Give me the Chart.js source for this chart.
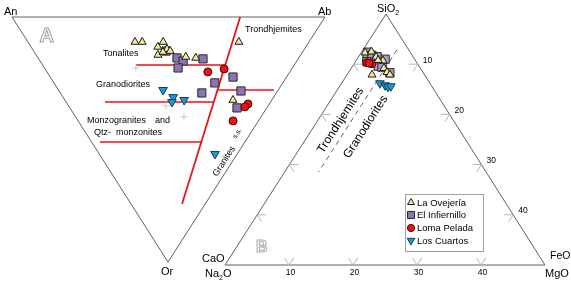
<!DOCTYPE html>
<html>
<head>
<meta charset="utf-8">
<script src="https://cdn.jsdelivr.net/npm/chart.js@4/dist/chart.umd.min.js"></script>
<style>
html,body{margin:0;padding:0;background:#fff;overflow:hidden}
canvas{display:block}
</style>
</head>
<body>
<canvas id="c" width="571" height="285"></canvas>
<script>
// ===================== DATA =====================
// Diagram A: An–Ab–Or ternary, values in % (An = 100 - Ab - Or)
const A_ovejeria_ab   = [34.2, 36.5, 43.2, 40.5, 43.0, 43.6, 38.9, 41.1, 47.4, 50.4, 67.4, 53.7];
const A_ovejeria_or   = [10.2, 10.2, 10.2, 12.2, 13.1, 13.9, 15.5, 14.3, 16.3, 16.7, 10.2, 33.9];
const A_infiernillo_ab = [44.4, 45.7, 42.7, 52.5, 58.4, 51.4, 58.1, 45.2, 53.4, 42.3];
const A_infiernillo_or = [16.7, 18.0, 20.8, 17.1, 24.5, 26.9, 30.2, 31.0, 37.1, 13.9];
const A_loma_ab       = [51.4, 57.2, 57.7, 56.1, 49.5];
const A_loma_or       = [22.4, 21.2, 35.5, 36.7, 42.4];
const A_cuartos_ab    = [33.4, 35.2, 33.8, 38.1, 37.0];
const A_cuartos_or    = [29.8, 32.7, 34.7, 33.9, 55.9];
// field boundaries
const A_divide_ab = [72.9, 16.3];
const A_divide_or = [0.0, 76.3];
const A_limit_or      = [19.6, 29.8, 34.7, 51.0];
const A_limit_ab_from = [29.8, 51.0, 12.4, 2.7];
const A_limit_ab_to   = [58.3, 68.8, 46.9, 35.0];
const A_grid_ab = [29.2, 31.1, 34.6];
const A_grid_or = [20.8, 36.3, 40.8];

// Diagram B: SiO2 – (Na2O/CaO) – (FeO/MgO) ternary, scale 0–50
// m = share toward FeO/MgO apex, n = share toward Na2O/CaO apex, SiO2 = 50 - m - n
const B_ovejeria_m   = [0.6, 2.75, 4.2, 5.1, 6.0, 6.7, 3.9, 3.4, 1.5];
const B_ovejeria_n   = [7.1, 5.8, 5.1, 5.7, 5.6, 5.4, 8.2, 5.8, 6.0];
const B_infiernillo_m = [1.0, 1.4, 1.9, 2.9, 1.8, 3.1, 4.4, 4.0, 4.7, 6.5];
const B_infiernillo_n = [6.6, 7.3, 6.3, 5.6, 7.7, 6.5, 4.6, 6.4, 5.9, 5.2];
const B_loma_m       = [2.8, 1.9, 2.3];
const B_loma_n       = [7.1, 7.8, 7.5];
const B_cuartos_m    = [6.0, 7.0, 7.6, 8.0];
const B_cuartos_n    = [7.8, 7.2, 6.9, 6.4];
const B_divide_m = [5.3, 5.3];
const B_divide_n = [1.8, 26.2];
const B_ticks = [10, 20, 30, 40];

const seriesNames = ['La Ovejería', 'El Infiernillo', 'Loma Pelada', 'Los Cuartos'];

// ===================== LAYOUT =====================
const VA = { an: [12, 17], ab: [325, 17], or: [168, 262] };
const VB = { s: [386, 14], n: [225, 265], m: [545, 265] };
function tA(ab, or) {
  const an = 100 - ab - or;
  return { x: (an * VA.an[0] + ab * VA.ab[0] + or * VA.or[0]) / 100,
           y: (an * VA.an[1] + ab * VA.ab[1] + or * VA.or[1]) / 100 };
}
function tB(m, n) {
  const s = 50 - m - n;
  return { x: (s * VB.s[0] + n * VB.n[0] + m * VB.m[0]) / 50,
           y: (s * VB.s[1] + n * VB.n[1] + m * VB.m[1]) / 50 };
}
const zipA = (a, b) => a.map((v, i) => tA(v, b[i]));
const zipB = (a, b) => a.map((v, i) => tB(v, b[i]));
const GAP = { x: null, y: null };

// ticks on triangle B (ternary-unit arms)
const L = 1.4;
const tickPts = [];
B_ticks.forEach(v => {
  tickPts.push(tB(v, 50 - v - L), tB(v, 50 - v), tB(v - L, 50 - v), GAP);
  tickPts.push(tB(v - L, L), tB(v, 0), tB(v, L), GAP);
  tickPts.push(tB(L, v - L), tB(0, v), tB(L, v), GAP);
});

const limitPts = [];
A_limit_or.forEach((o, i) => { limitPts.push(tA(A_limit_ab_from[i], o), tA(A_limit_ab_to[i], o), GAP); });

const COL = {
  tri: '#f3e7a4', sqA: '#8b74b2', sqB: '#a89dc9', red: '#e3141c', blue: '#1e9ad2',
  red_line: '#e8141c'
};

function lineDS(data, color, width, order, dash) {
  return { type: 'scatter', data, showLine: true, pointRadius: 0, borderColor: color,
           borderWidth: width, borderDash: dash || [], fill: false, spanGaps: false, order, clip: false };
}
function ptDS(label, data, style, bg, border, radius, rot, order) {
  return { label, data, pointStyle: style, rotation: rot || 0, pointRadius: radius,
           backgroundColor: bg, borderColor: border, pointBorderWidth: 1, borderWidth: 1,
           showLine: false, order, clip: false };
}

const datasets = [
  lineDS([tA(0,0), tA(100,0), tA(0,100), tA(0,0)], '#606060', 1, 100),
  lineDS([tB(0,0), tB(0,50), tB(50,0), tB(0,0)], '#606060', 1, 100),
  lineDS(tickPts, '#b4b4b4', 1, 99),
  lineDS(zipA(A_divide_ab, A_divide_or), COL.red_line, 1.8, 90),
  lineDS(limitPts, COL.red_line, 1.6, 90),
  lineDS(zipB(B_divide_m, B_divide_n), '#555', 0.9, 90, [5, 4]),
  ptDS('grid', zipA(A_grid_ab, A_grid_or), 'cross', '#c3c8dc', '#c3c8dc', 3.5, 0, 80),
  ptDS(seriesNames[1], zipA(A_infiernillo_ab, A_infiernillo_or), 'rect', COL.sqA, '#2a2a2a', 5.8, 0, 40),
  ptDS(seriesNames[1], zipB(B_infiernillo_m, B_infiernillo_n), 'rect', COL.sqB, '#2a2a2a', 5.8, 0, 40),
  ptDS(seriesNames[2], zipB(B_loma_m, B_loma_n), 'circle', COL.red, '#5a0000', 4, 0, 35),
  ptDS(seriesNames[0], zipA(A_ovejeria_ab, A_ovejeria_or), 'triangle', COL.tri, '#1a1a1a', 4.6, 0, 30),
  ptDS(seriesNames[0], zipB(B_ovejeria_m, B_ovejeria_n), 'triangle', COL.tri, '#1a1a1a', 4.6, 0, 30),
  ptDS(seriesNames[2], zipA(A_loma_ab, A_loma_or), 'circle', COL.red, '#5a0000', 4, 0, 20),
  ptDS(seriesNames[3], zipA(A_cuartos_ab, A_cuartos_or), 'triangle', COL.blue, '#123c55', 5, 180, 10),
  ptDS(seriesNames[3], zipB(B_cuartos_m, B_cuartos_n), 'triangle', COL.blue, '#123c55', 5, 180, 10)
];

const FONT = '"Liberation Sans", Arial, sans-serif';

const textPlugin = {
  id: 'texts',
  afterDatasetsDraw(chart) {
    const ctx = chart.ctx, sx = chart.scales.x, sy = chart.scales.y;
    const X = v => sx.getPixelForValue(v), Y = v => sy.getPixelForValue(v);
    function t(s, x, y, size, opt) {
      opt = opt || {};
      ctx.save();
      ctx.font = (opt.bold ? 'bold ' : '') + size + 'px ' + FONT;
      ctx.textAlign = opt.align || 'left';
      ctx.textBaseline = opt.base || 'alphabetic';
      ctx.translate(X(x), Y(y));
      if (opt.rot) ctx.rotate(opt.rot);
      if (opt.stroke) { ctx.strokeStyle = opt.stroke; ctx.lineWidth = 1; ctx.strokeText(s, 0, 0); }
      else { ctx.fillStyle = opt.color || '#000'; ctx.fillText(s, 0, 0); }
      ctx.restore();
      ctx.font = size + 'px ' + FONT;
      return ctx.measureText(s).width;
    }
    // Diagram A
    t('An', 4, 15, 11); t('Ab', 318, 15, 11); t('Or', 161, 275, 11);
    t('A', 39.5, 42, 20, { bold: true, stroke: '#a0a0a0' });
    t('Tonalites', 103, 56, 9);
    t('Trondhjemites', 245, 32, 9);
    t('Granodiorites', 96, 87, 9);
    t('Monzogranites', 87, 123, 9); t('and', 155, 123, 9);
    t('Qtz-', 94, 135, 9); t('monzonites', 116, 135, 9);
    const angA = Math.atan2(VA.or[1] - VA.ab[1], VA.or[0] - VA.ab[0]) + Math.PI;
    t('Granites', 217, 177, 9, { rot: angA });
    t('s.s.', 236, 139, 7, { rot: angA });
    // Diagram B
    let w = t('SiO', 377, 12, 11); t('2', 377 + w, 14.5, 7);
    t('CaO', 202, 262, 11);
    w = t('Na', 205, 277, 11); const w2 = t('2', 205 + w, 279.5, 7); t('O', 205 + w + w2, 277, 11);
    t('FeO', 550, 259, 10.5); t('MgO', 545, 277, 11);
    t('B', 256, 252, 16, { bold: true, stroke: '#a8a8a8' });
    const angB = Math.atan2(VB.s[1] - VB.n[1], VB.s[0] - VB.n[0]);
    t('Trondhjemites', 323, 154, 12, { rot: angB });
    t('Granodiorites', 349, 159, 12, { rot: angB });
    B_ticks.forEach(v => {
      const pb = tB(v, 50 - v);
      t(String(v), pb.x + 1.5, 275, 8.5, { align: 'center' });
      const pr = tB(v, 0);
      t(String(v), pr.x + 5, pr.y - 4, 8.5, { base: 'middle' });
    });
  },
  afterDraw(chart) {
    const ctx = chart.ctx, sx = chart.scales.x, sy = chart.scales.y;
    const X = v => sx.getPixelForValue(v), Y = v => sy.getPixelForValue(v);
    const bx = X(405), by = Y(194), bw = X(483) - bx, bh = Y(251) - by;
    ctx.save();
    ctx.strokeStyle = '#a0a0a0'; ctx.lineWidth = 1;
    ctx.strokeRect(Math.round(bx) + 0.5, Math.round(by) + 0.5, Math.round(bw), Math.round(bh));
    const legendItems = [
      { name: seriesNames[0], style: 'triangle', bg: COL.tri, bc: '#1a1a1a', r: 4, rot: 0 },
      { name: seriesNames[1], style: 'rect', bg: COL.sqA, bc: '#2a2a2a', r: 5, rot: 0 },
      { name: seriesNames[2], style: 'circle', bg: COL.red, bc: '#5a0000', r: 3.6, rot: 0 },
      { name: seriesNames[3], style: 'triangle', bg: COL.blue, bc: '#123c55', r: 4.4, rot: 180 }
    ];
    const rowY = [202.5, 215, 228, 240.5];
    legendItems.forEach((it, i) => {
      ctx.fillStyle = it.bg; ctx.strokeStyle = it.bc; ctx.lineWidth = 1;
      Chart.helpers.drawPoint(ctx, { pointStyle: it.style, radius: it.r, rotation: it.rot, borderWidth: 1 }, X(411), Y(rowY[i]));
      ctx.fillStyle = '#000';
      ctx.font = '9.5px ' + FONT; ctx.textBaseline = 'middle'; ctx.textAlign = 'left';
      ctx.fillText(it.name, X(417), Y(rowY[i]) + 0.5);
    });
    ctx.restore();
  }
};

new Chart(document.getElementById('c'), {
  type: 'scatter',
  data: { datasets },
  options: {
    responsive: false,
    animation: false,
    devicePixelRatio: 1,
    events: [],
    layout: { padding: 0, autoPadding: false },
    plugins: { legend: { display: false }, tooltip: { enabled: false } },
    scales: {
      x: { type: 'linear', min: 0, max: 571, display: false },
      y: { type: 'linear', min: 0, max: 285, reverse: true, display: false }
    }
  },
  plugins: [textPlugin]
});
</script>
</body>
</html>
